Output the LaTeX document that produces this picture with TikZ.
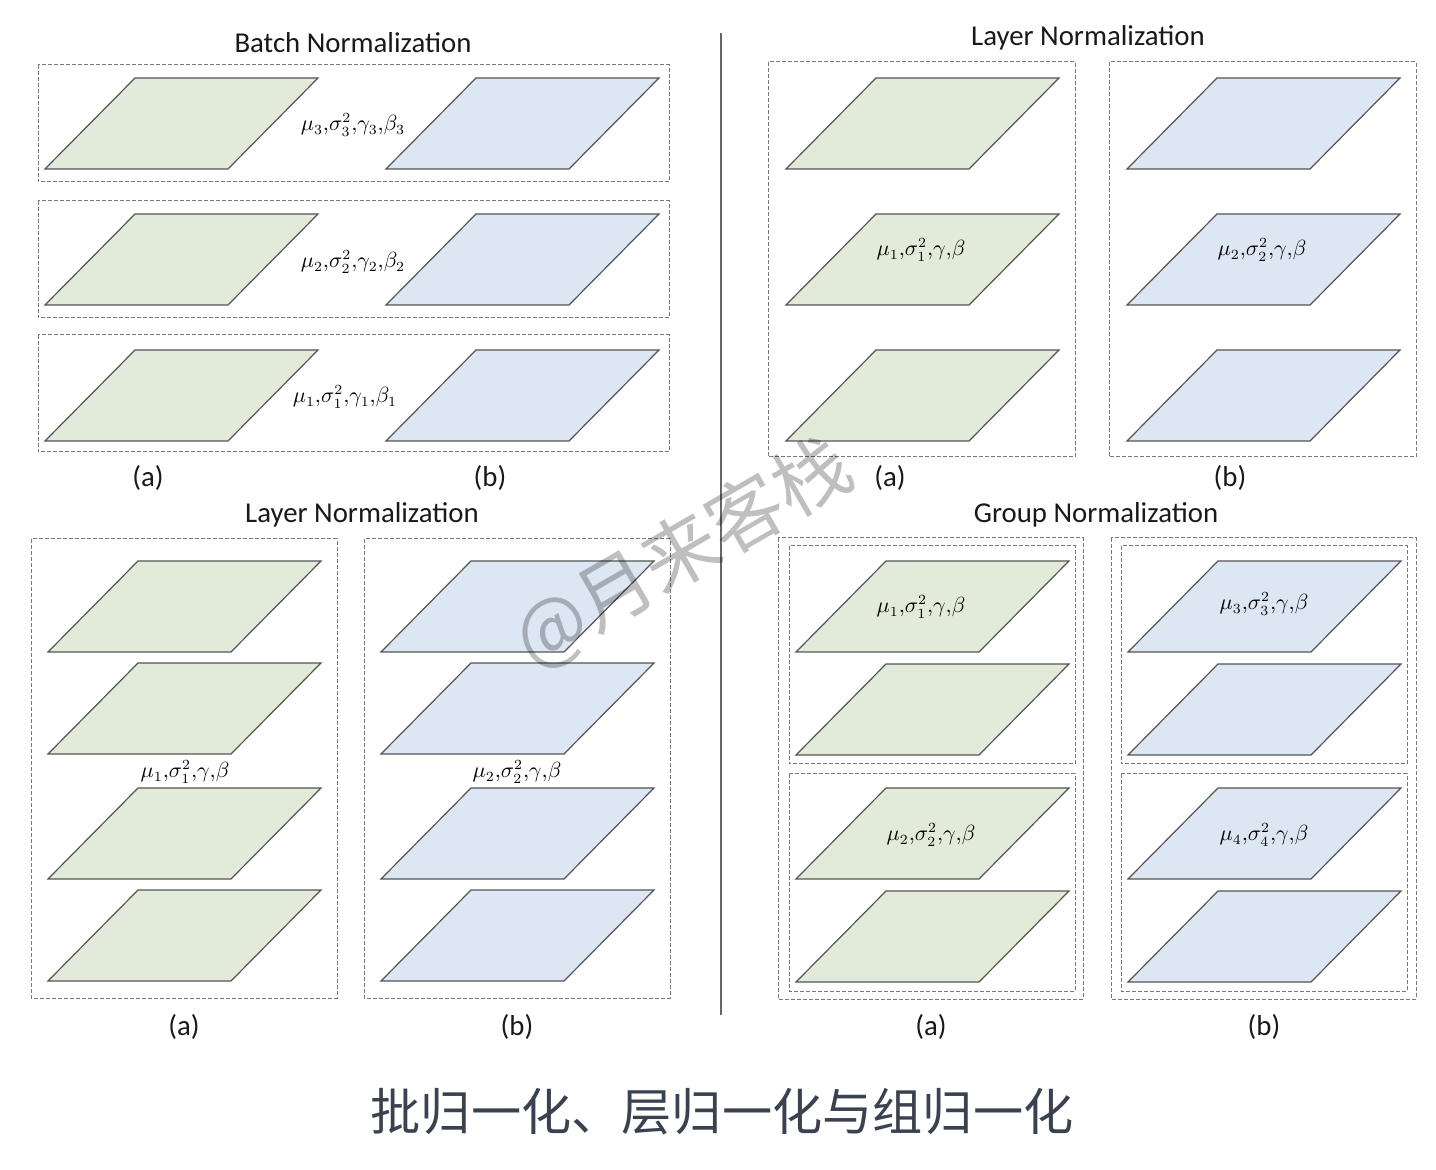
\documentclass[tikz,border=0pt]{standalone}
\usepackage[no-math]{fontspec}
\setmainfont{Carlito}
\newfontfamily\cjk{Noto Sans CJK SC}
\definecolor{planegreen}{RGB}{226,235,217}
\definecolor{planeblue}{RGB}{221,230,243}
\definecolor{planeedge}{RGB}{85,85,85}
\definecolor{boxedge}{RGB}{120,120,120}
\definecolor{captioncol}{RGB}{58,66,80}
\newcommand\drawplane[3]{%
  \filldraw[planeline,fill=#3] (#1,#2) -- ++(183,0) -- ++(90,-91) -- ++(-183,0) -- cycle;}
\begin{document}
\begin{tikzpicture}[x=0.5pt,y=-0.5pt,
  planeline/.style={draw=planeedge,line width=0.6pt,line join=miter},
  dbox/.style={draw=boxedge,line width=0.5pt,dash pattern=on 2pt off 1pt},
  title/.style={font=\fontsize{14.4}{16}\selectfont,text=black!90,inner sep=0pt},
  sublabel/.style={font=\fontsize{14.4}{16}\selectfont,text=black!90,inner sep=0pt},
  param/.style={font=\fontsize{10.5}{12}\selectfont,inner sep=0pt},
  divider/.style={draw=black!60,line width=0.6pt}]
\useasboundingbox[fill=white] (0,0) rectangle (1436,1170);

% ---------- divider ----------
\coordinate (divtop) at (721,33);
\coordinate (divbot) at (721,1015);
\draw[divider] (divtop) -- (divbot);

% ---------- Batch Normalization ----------
\node[title] (tBN) at (353,43) {Batch Normalization};
\draw[dbox] (38,65) rectangle (669,182);
\draw[dbox] (38,201) rectangle (669,318);
\draw[dbox] (38,335) rectangle (669,452);
\foreach \yb in {169,305,441}{
  \drawplane{45}{\yb}{planegreen}
  \drawplane{386}{\yb}{planeblue}
}
\node[param] (bn3) at (353,125) {$\mu_3{,}\sigma_3^2{,}\gamma_3{,}\beta_3$};
\node[param] (bn2) at (353,262) {$\mu_2{,}\sigma_2^2{,}\gamma_2{,}\beta_2$};
\node[param] (bn1) at (345,397) {$\mu_1{,}\sigma_1^2{,}\gamma_1{,}\beta_1$};
\node[sublabel] (bna) at (148,478) {(a)};
\node[sublabel] (bnb) at (490,478) {(b)};

% ---------- Layer Normalization (top right) ----------
\node[title] (tLNa) at (1088,38) {Layer Normalization};
\draw[dbox] (768,62) rectangle (1075,457);
\draw[dbox] (1109,62) rectangle (1416,457);
\foreach \yb in {169,305,441}{
  \drawplane{786}{\yb}{planegreen}
  \drawplane{1127}{\yb}{planeblue}
}
\node[param] (lna1) at (921,250) {$\mu_1{,}\sigma_1^2{,}\gamma{,}\beta$};
\node[param] (lna2) at (1262,250) {$\mu_2{,}\sigma_2^2{,}\gamma{,}\beta$};
\node[sublabel] (lnaa) at (890,478) {(a)};
\node[sublabel] (lnab) at (1230,478) {(b)};

% ---------- Layer Normalization (bottom left) ----------
\node[title] (tLNb) at (362,515) {Layer Normalization};
\draw[dbox] (31,539) rectangle (337,998);
\draw[dbox] (364,539) rectangle (670,998);
\foreach \yb in {652,754,879,981}{
  \drawplane{48}{\yb}{planegreen}
  \drawplane{381}{\yb}{planeblue}
}
\node[param] (lnb1) at (185,772) {$\mu_1{,}\sigma_1^2{,}\gamma{,}\beta$};
\node[param] (lnb2) at (517,772) {$\mu_2{,}\sigma_2^2{,}\gamma{,}\beta$};
\node[sublabel] (lnba) at (184,1027) {(a)};
\node[sublabel] (lnbb) at (517,1027) {(b)};

% ---------- Group Normalization ----------
\node[title] (tGN) at (1096,515) {Group Normalization};
\draw[dbox] (778,538) rectangle (1083,999);
\draw[dbox] (1111,538) rectangle (1416,999);
\draw[dbox] (789,546) rectangle (1075,764);
\draw[dbox] (789,774) rectangle (1075,991);
\draw[dbox] (1121,546) rectangle (1407,764);
\draw[dbox] (1121,774) rectangle (1407,991);
\foreach \yb in {652,755,879,982}{
  \drawplane{796}{\yb}{planegreen}
  \drawplane{1128}{\yb}{planeblue}
}
\node[param] (gn1) at (921,607) {$\mu_1{,}\sigma_1^2{,}\gamma{,}\beta$};
\node[param] (gn2) at (931,835) {$\mu_2{,}\sigma_2^2{,}\gamma{,}\beta$};
\node[param] (gn3) at (1264,604) {$\mu_3{,}\sigma_3^2{,}\gamma{,}\beta$};
\node[param] (gn4) at (1264,835) {$\mu_4{,}\sigma_4^2{,}\gamma{,}\beta$};
\node[sublabel] (gna) at (931,1027) {(a)};
\node[sublabel] (gnb) at (1264,1027) {(b)};

% ---------- caption ----------
\node[text=captioncol,font=\cjk\fontsize{25.1}{29}\selectfont,inner sep=0pt] (cap) at (722,1112) {批归一化、层归一化与组归一化};

% ---------- watermark (drawn on top) ----------
\node[text=black,text opacity=0.25,rotate=30,font=\cjk\fontsize{38}{42}\selectfont,inner sep=0pt] (wm) at (683,553) {@月来客栈};
\end{tikzpicture}
\end{document}
